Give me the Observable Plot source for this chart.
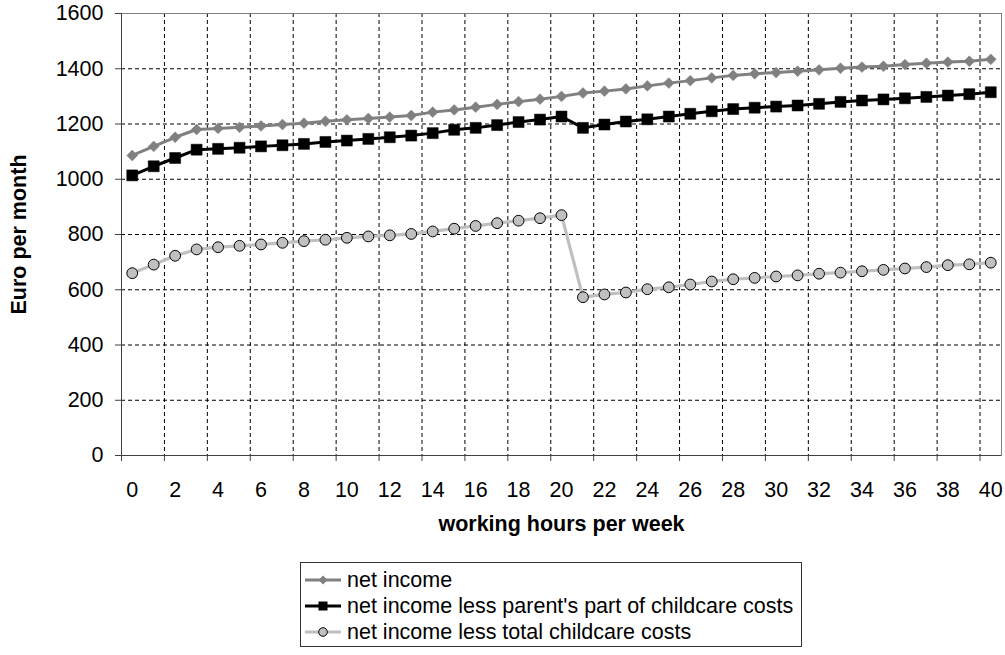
<!DOCTYPE html>
<html><head><meta charset="utf-8">
<script src="https://cdn.jsdelivr.net/npm/d3@7"></script>
<script src="https://cdn.jsdelivr.net/npm/@observablehq/plot@0.6"></script>
<style>
body{margin:0;background:#fff;font-family:"Liberation Sans",Arial,sans-serif;}
#wrap{position:relative;width:1005px;height:655px;overflow:hidden;}
#legend{position:absolute;left:300px;top:562px;border:1px solid #333;padding:4px 8px 1px 4px;font-size:21.5px;line-height:26px;color:#000;background:#fff;}
.row{display:flex;align-items:center;height:26px;white-space:nowrap;}
.row svg{margin-right:6px;flex:none;}
</style></head><body>
<div id="wrap"><div id="chart"></div><div id="legend"></div></div>
<script>
const hours = [0,1,2,3,4,5,6,7,8,9,10,11,12,13,14,15,16,17,18,19,20,21,22,23,24,25,26,27,28,29,30,31,32,33,34,35,36,37,38,39,40];
const netIncome = [1086,1119,1152,1180,1184,1188,1193,1198,1203,1210,1215,1220,1225,1231,1243,1251,1261,1271,1281,1290,1300,1312,1319,1327,1338,1348,1357,1367,1376,1382,1386,1391,1396,1402,1406,1409,1415,1420,1424,1427,1434];
const netLessParent = [1014,1047,1077,1107,1110,1114,1119,1123,1128,1135,1140,1146,1152,1158,1167,1179,1186,1196,1207,1216,1227,1186,1198,1209,1217,1227,1237,1246,1254,1259,1263,1267,1273,1280,1285,1289,1293,1298,1303,1308,1315];
const netLessTotal = [660,691,723,746,754,759,764,770,776,781,788,793,797,802,811,821,831,841,850,859,870,573,583,590,602,609,619,630,638,643,648,652,658,662,667,672,677,682,689,692,698];
const xTickLabels = [0,2,4,6,8,10,12,14,16,18,20,22,24,26,28,30,32,34,36,38,40];
const yTicks = [0,200,400,600,800,1000,1200,1400,1600];
const seriesNames = ["net income","net income less parent's part of childcare costs","net income less total childcare costs"];
const xTitle = "working hours per week";
const yTitle = "Euro per month";

const font = '"Liberation Sans",Arial,sans-serif';
const toRows = vals => hours.map((h,i)=>({h, v: vals[i]}));
const rNet = toRows(netIncome), rPar = toRows(netLessParent), rTot = toRows(netLessTotal);
const bounds = xTickLabels.map(d => d - 0.5);

const chart = Plot.plot({
  width:1005, height:548,
  marginTop:13, marginBottom:93, marginLeft:121, marginRight:4,
  style:{fontFamily:font, fontSize:"21.5px", color:"#000", background:"#fff", overflow:"visible"},
  x:{domain:[-0.5,40.5], label:null},
  y:{domain:[0,1600], label:null},
  marks:[
    Plot.gridX(bounds.slice(1), {stroke:"#000", strokeOpacity:1, strokeDasharray:"4,3"}),
    Plot.gridY(yTicks.slice(1,-1), {stroke:"#000", strokeOpacity:1, strokeDasharray:"4,3"}),
    Plot.frame({stroke:"#808080"}),
    Plot.ruleX([-0.5], {stroke:"#404040"}),
    Plot.ruleY([0], {stroke:"#404040"}),
    Plot.axisX(bounds, {tickSize:6, tickFormat:()=>"", stroke:"#404040", label:null}),
    Plot.axisX(xTickLabels, {tickSize:0, tickPadding:26, tickFormat:d=>String(d), label:null, fontSize:21.5, fill:"#000"}),
    Plot.axisY(yTicks, {tickSize:6, tickPadding:12, tickFormat:d=>String(d), stroke:"#404040", label:null, fontSize:21.5, fill:"#000"}),
    Plot.line(rNet, {x:"h", y:"v", stroke:"#808080", strokeWidth:3}),
    Plot.line(rPar, {x:"h", y:"v", stroke:"#000", strokeWidth:3}),
    Plot.line(rTot, {x:"h", y:"v", stroke:"#c0c0c0", strokeWidth:3.2}),
    Plot.dot(rNet, {x:"h", y:"v", symbol:"diamond2", r:4.9, fill:"#808080", stroke:"#808080", strokeWidth:0.5}),
    Plot.dot(rPar, {x:"h", y:"v", symbol:"square", r:6.2, fill:"#000", stroke:"#000", strokeWidth:0.5}),
    Plot.dot(rTot, {x:"h", y:"v", symbol:"circle", r:5.4, fill:"#c0c0c0", stroke:"#000", strokeWidth:1}),
    Plot.text([yTitle], {text:d=>d, frameAnchor:"left", dx:-102.5, rotate:-90, textAnchor:"middle", lineAnchor:"middle", fontWeight:"bold", fontSize:21.5, fill:"#000"}),
    Plot.text([xTitle], {text:d=>d, frameAnchor:"bottom", dy:69, textAnchor:"middle", lineAnchor:"middle", fontWeight:"bold", fontSize:21.5, fill:"#000"})
  ]
});
document.getElementById("chart").appendChild(chart);

// legend
const legendSpecs = [
  {name: seriesNames[0], line:"#808080", marker:'<path d="M18,2.5 L22.5,7 L18,11.5 L13.5,7 Z" fill="#808080"/>'},
  {name: seriesNames[1], line:"#000", marker:'<rect x="13.5" y="2.5" width="9" height="9" fill="#000"/>'},
  {name: seriesNames[2], line:"#c0c0c0", marker:'<circle cx="18" cy="7" r="4.3" fill="#c0c0c0" stroke="#000" stroke-width="1"/>'}
];
const leg = document.getElementById("legend");
legendSpecs.forEach(s => {
  const row = document.createElement("div");
  row.className = "row";
  row.innerHTML = `<svg width="36" height="14"><line x1="0" y1="7" x2="36" y2="7" stroke="${s.line}" stroke-width="3"/>${s.marker}</svg><span></span>`;
  row.querySelector("span").textContent = s.name;
  leg.appendChild(row);
});
</script>
</body></html>
